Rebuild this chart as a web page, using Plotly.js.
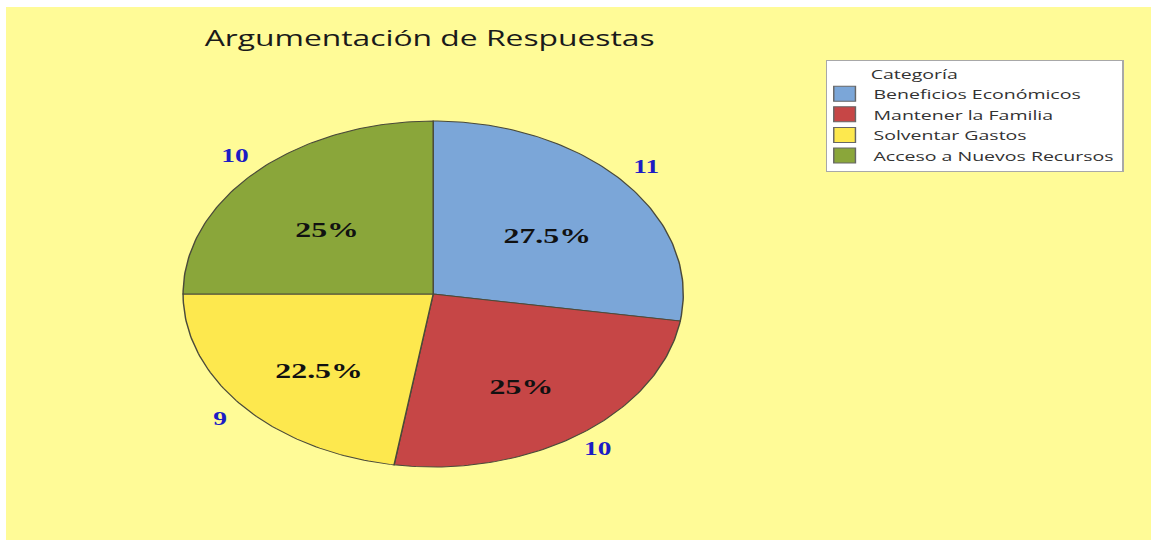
<!DOCTYPE html>
<html>
<head>
<meta charset="utf-8">
<script src="https://cdn.plot.ly/plotly-3.0.1.min.js"></script>
<style>
  body { margin: 0; background: #ffffff; overflow: hidden; }
  /* the original picture is stretched sideways, so the whole chart is drawn narrow and widened */
  #chartDiv {
    position: absolute; left: 6px; top: 7px;
    width: 792px; height: 533px;
    transform: scaleX(1.4457); transform-origin: 0 0;
  }
</style>
</head>
<body>
<div id="chartDiv"></div>
<script>
// data
const categories = ["Beneficios Económicos", "Mantener la Familia", "Solventar Gastos", "Acceso a Nuevos Recursos"];
const counts = [11, 10, 9, 10];
const sliceColors = ["#7BA6D8", "#C64646", "#FDE84E", "#8AA63A"];

const total = counts.reduce((a, b) => a + b, 0);

// slices as filled polygons on hidden axes (clockwise from 12 o'clock)
const sliceTraces = [];
const pctX = [], pctY = [], pctText = [];
const cntX = [], cntY = [], cntText = [];

let start = 0;
counts.forEach((v, i) => {
  const frac = v / total;
  const a0 = start * 2 * Math.PI;
  const a1 = (start + frac) * 2 * Math.PI;
  const steps = Math.max(2, Math.ceil(frac * 360));
  const xs = [0], ys = [0];
  for (let k = 0; k <= steps; k++) {
    const a = a0 + (a1 - a0) * k / steps;
    xs.push(Math.sin(a));
    ys.push(Math.cos(a));
  }
  xs.push(0);
  ys.push(0);

  sliceTraces.push({
    x: xs,
    y: ys,
    type: "scatter",
    mode: "lines",
    fill: "toself",
    fillcolor: sliceColors[i],
    line: { color: "#4a4a3a", width: 1 },
    hoverinfo: "skip",
    showlegend: false,
  });

  const mid = (a0 + a1) / 2;
  pctX.push(0.6 * Math.sin(mid));
  pctY.push(0.6 * Math.cos(mid));
  pctText.push("<b>" + Number((frac * 100).toFixed(1)) + "%</b>");
  cntX.push(1.12 * Math.sin(mid));
  cntY.push(1.12 * Math.cos(mid));
  cntText.push("<b>" + v + "</b>");

  start += frac;
});

const pctTrace = {
  x: pctX,
  y: pctY,
  text: pctText,
  type: "scatter",
  mode: "text",
  textposition: "bottom center",
  textfont: { family: "Liberation Serif", size: 22, color: "#111111" },
  hoverinfo: "skip",
  showlegend: false,
};

const cntTrace = {
  x: cntX,
  y: cntY,
  text: cntText,
  type: "scatter",
  mode: "text",
  textposition: "middle center",
  textfont: { family: "Liberation Serif", size: 19, color: "#1c1cc4" },
  hoverinfo: "skip",
  showlegend: false,
};

// legend-only entries with square swatches
const legendTraces = categories.map((c, i) => ({
  x: [null],
  y: [null],
  type: "scatter",
  mode: "markers",
  name: c,
  marker: { symbol: "square", size: 15, color: sliceColors[i], line: { color: "#666666", width: 1 } },
  hoverinfo: "skip",
}));

const layout = {
  width: 792,
  height: 533,
  margin: { l: 0, r: 0, t: 0, b: 0 },
  paper_bgcolor: "#FFFB97",
  plot_bgcolor: "rgba(0,0,0,0)",
  title: {
    text: "Argumentación de Respuestas",
    x: 0.37,
    xanchor: "center",
    y: 0.942,
    yanchor: "middle",
    font: { family: "Open Sans", size: 22, color: "#1a1a1a" },
  },
  xaxis: {
    range: [-1.708, 2.870],
    visible: false,
    fixedrange: true,
  },
  yaxis: {
    range: [-1.422, 1.659],
    visible: false,
    fixedrange: true,
  },
  showlegend: true,
  legend: {
    x: 0.716,
    y: 0.9006,
    xanchor: "left",
    yanchor: "top",
    bgcolor: "#ffffff",
    bordercolor: "#a8a8a8",
    borderwidth: 1,
    indentation: -8,
    font: { family: "Open Sans", size: 13.5, color: "#333333" },
    title: { text: "\u00A0\u00A0\u00A0\u00A0\u00A0\u00A0\u00A0\u00A0Categoría", font: { family: "Open Sans", size: 13.5, color: "#333333" } },
    tracegroupgap: 0,
  },
};

Plotly.newPlot("chartDiv", [...sliceTraces, pctTrace, cntTrace, ...legendTraces], layout, { displayModeBar: false, staticPlot: true });
</script>
</body>
</html>
